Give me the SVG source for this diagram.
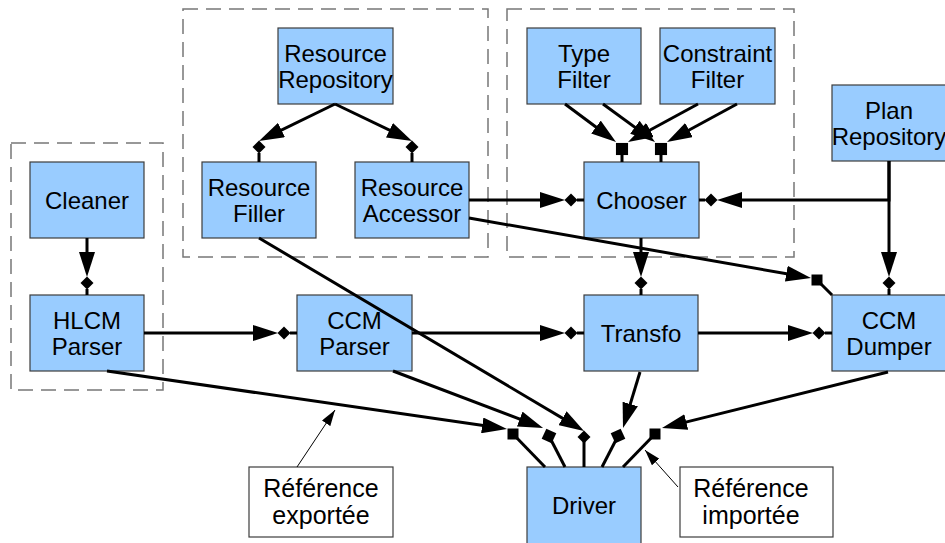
<svg xmlns="http://www.w3.org/2000/svg" xmlns:xlink="http://www.w3.org/1999/xlink" width="945" height="543" viewBox="0 0 945 543">
<style>
.bg{fill:#ffffff}
.grp{fill:none;stroke:#777777;stroke-width:1.5;stroke-dasharray:15 8}
.node rect{fill:#99ccff;stroke:#3c3c3c;stroke-width:1.2}
.lbl rect{fill:#ffffff;stroke:#3c3c3c;stroke-width:1.2}
text{font-family:"Liberation Sans",Arial,sans-serif;font-size:24px;text-anchor:middle;fill:#000000}
.lbl text{font-size:25px}
.c{stroke:#000000;stroke-width:3;fill:none}
.a{marker-end:url(#ah)}
.t{stroke:#000000;stroke-width:1;fill:none;marker-end:url(#ta)}
.m{fill:#000000}
</style>
<defs>
<marker id="ah" markerUnits="userSpaceOnUse" markerWidth="25" markerHeight="16" refX="15" refY="8" orient="auto" viewBox="0 0 25 16"><path d="M0,0 L25,8 L0,16 z" fill="#000000"/></marker>
<marker id="ta" markerUnits="userSpaceOnUse" markerWidth="16" markerHeight="10" refX="16" refY="5" orient="auto" viewBox="0 0 16 10"><path d="M0,0 L16,5 L0,10 z" fill="#000000"/></marker>
<path id="dm" d="M0,-6.5 L6.5,0 L0,6.5 L-6.5,0 z"/>
<rect id="sq" x="-5.5" y="-5.5" width="11" height="11"/>
</defs>
<rect class="bg" x="0" y="0" width="945" height="543"/>
<g id="groups">
<rect class="grp" x="11" y="143" width="152" height="247"/>
<rect class="grp" x="183" y="9" width="305" height="248"/>
<rect class="grp" x="507" y="9" width="287" height="248"/>
</g>
<g id="cleaner" class="node"><rect x="30" y="162" width="114" height="76"/><text x="87" y="208.5">Cleaner</text></g>
<g id="hlcm-parser" class="node"><rect x="30" y="295" width="114" height="76"/><text x="87" y="328.5">HLCM</text><text x="87" y="354.5">Parser</text></g>
<g id="resource-repository" class="node"><rect x="278" y="28" width="115" height="76"/><text x="335.5" y="61.5">Resource</text><text x="335.5" y="87.5">Repository</text></g>
<g id="resource-filler" class="node"><rect x="202" y="162" width="114" height="76"/><text x="259" y="195.5">Resource</text><text x="259" y="221.5">Filler</text></g>
<g id="resource-accessor" class="node"><rect x="355" y="162" width="114" height="76"/><text x="412" y="195.5">Resource</text><text x="412" y="221.5">Accessor</text></g>
<g id="type-filter" class="node"><rect x="527" y="28" width="114" height="76"/><text x="584" y="61.5">Type</text><text x="584" y="87.5">Filter</text></g>
<g id="constraint-filter" class="node"><rect x="660" y="28" width="115" height="76"/><text x="717.5" y="61.5">Constraint</text><text x="717.5" y="87.5">Filter</text></g>
<g id="chooser" class="node"><rect x="584" y="162" width="115" height="76"/><text x="641.5" y="208.5">Chooser</text></g>
<g id="plan-repository" class="node"><rect x="832" y="85" width="114" height="76"/><text x="889" y="118.5">Plan</text><text x="889" y="144.5">Repository</text></g>
<g id="ccm-parser" class="node"><rect x="297" y="295" width="115" height="76"/><text x="354.5" y="328.5">CCM</text><text x="354.5" y="354.5">Parser</text></g>
<g id="transfo" class="node"><rect x="584" y="295" width="114" height="76"/><text x="641" y="341.5">Transfo</text></g>
<g id="ccm-dumper" class="node"><rect x="832" y="295" width="114" height="76"/><text x="889" y="328.5">CCM</text><text x="889" y="354.5">Dumper</text></g>
<g id="driver" class="node"><rect x="527" y="467" width="114" height="77"/><text x="584" y="513.5">Driver</text></g>
<g id="ref-exportee" class="lbl"><rect x="249" y="467" width="144" height="70"/><text x="321" y="497">Référence</text><text x="321" y="523.5">exportée</text></g>
<g id="ref-importee" class="lbl"><rect x="680" y="467" width="153" height="70"/><text x="751" y="497">Référence</text><text x="751" y="523.5">importée</text></g>
<g id="connectors">
<path class="c a" d="M87,238 L87,267"/>
<path class="c" d="M87,289 L87,295"/><use class="m" xlink:href="#dm" transform="translate(87,283)"/>
<path class="c a" d="M335,104 L268,136.6"/>
<path class="c" d="M259,153 L259,162"/><use class="m" xlink:href="#dm" transform="translate(259,147)"/>
<path class="c a" d="M335,104 L403,136.7"/>
<path class="c" d="M412,153 L412,162"/><use class="m" xlink:href="#dm" transform="translate(412,147)"/>
<path class="c a" d="M469,200 L555,200"/>
<path class="c" d="M577,200 L584,200"/><use class="m" xlink:href="#dm" transform="translate(571,200)"/>
<path class="c a" d="M469,218 L801.1,276.3"/>
<path class="c" d="M817,280 L832,295"/><use class="m" xlink:href="#sq" transform="translate(817,280)"/>
<path class="c a" d="M565,104 L608,136"/>
<path class="c a" d="M603,104 L647,136.1"/>
<path class="c a" d="M698,104 L636.8,137.2"/>
<path class="c a" d="M737,104 L675.8,137.2"/>
<path class="c" d="M622,155 L622,162"/><use class="m" xlink:href="#sq" transform="translate(622,149) scale(1.1)"/>
<path class="c" d="M661,155 L661,162"/><use class="m" xlink:href="#sq" transform="translate(661,149) scale(1.1)"/>
<path class="c a" d="M889,161 L889,200 L727,200"/>
<path class="c" d="M705,200 L699,200"/><use class="m" xlink:href="#dm" transform="translate(711,200)"/>
<path class="c a" d="M889,161 L889,267"/>
<path class="c" d="M889,289 L889,295"/><use class="m" xlink:href="#dm" transform="translate(889,283)"/>
<path class="c a" d="M641,238 L641,267"/>
<path class="c" d="M641,289 L641,295"/><use class="m" xlink:href="#dm" transform="translate(641,283)"/>
<path class="c a" d="M144,333 L268,333"/>
<path class="c" d="M290,333 L297,333"/><use class="m" xlink:href="#dm" transform="translate(284,333)"/>
<path class="c a" d="M412,333 L555,333"/>
<path class="c" d="M577,333 L584,333"/><use class="m" xlink:href="#dm" transform="translate(571,333)"/>
<path class="c a" d="M698,333 L803,333"/>
<path class="c" d="M825,333 L832,333"/><use class="m" xlink:href="#dm" transform="translate(819,333)"/>
<path class="c a" d="M107,371 L497.1,427.6"/>
<path class="c" d="M513,434 L545,467"/><use class="m" xlink:href="#sq" transform="translate(513,434)"/>
<path class="c a" d="M393,371 L533.7,424.4"/>
<path class="c" d="M549,436 L565,467"/><use class="m" xlink:href="#sq" transform="translate(549,436) rotate(25)"/>
<path class="c a" d="M259,238 L575.4,425.9"/>
<path class="c" d="M584,437 L584,467"/><use class="m" xlink:href="#dm" transform="translate(584,437)"/>
<path class="c a" d="M640,372 L625.9,418.4"/>
<path class="c" d="M618,436 L602,467"/><use class="m" xlink:href="#sq" transform="translate(618,436) rotate(-25)"/>
<path class="c a" d="M888,372 L671.7,425.6"/>
<path class="c" d="M655,434 L623,467"/><use class="m" xlink:href="#sq" transform="translate(655,434)"/>
<path class="t" d="M297,467 L335,410"/>
<path class="t" d="M678,487 L645,450"/>
</g>
</svg>
